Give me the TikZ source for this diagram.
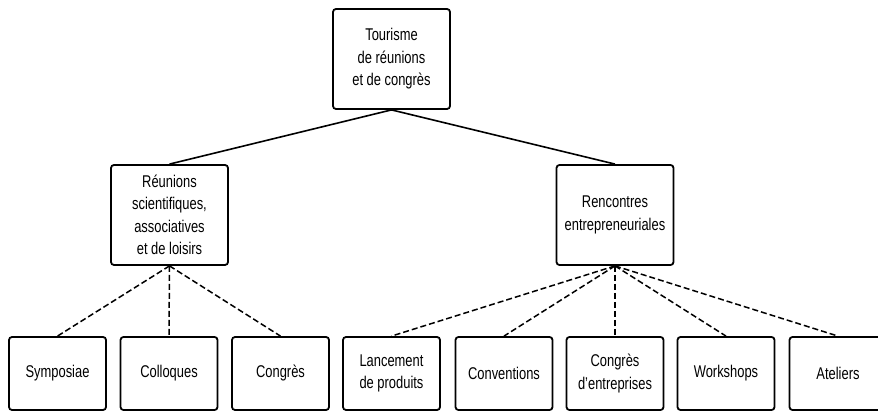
\documentclass[tikz,border=0pt]{standalone}
\usepackage{fontspec}
\setmainfont[FakeStretch=0.76]{Liberation Sans}

\begin{document}
\begin{tikzpicture}[x=1pt,y=-1pt,
    box/.style={draw,line width=1.8pt,rounded corners=3pt,align=center,inner sep=0pt,
        font=\fontsize{17}{22.5}\selectfont},
    bigbox/.style={box,minimum width=117pt,minimum height=100pt},
    leafbox/.style={box,minimum width=97pt,minimum height=73pt},
    link/.style={line width=1.6pt},
    sublink/.style={line width=1.5pt,dash pattern=on 6pt off 3pt}]
    \useasboundingbox (0,0) rectangle (878,411);

    \node[bigbox] (tour) at (391.5,59) {Tourisme\\de réunions\\et de congrès}; % Root.
    \node[bigbox] (reun) at (169.5,215) {Réunions\\scientifiques,\\associatives\\et de loisirs};
    \node[bigbox] (renc) at (615,215) {Rencontres\\entrepreneuriales};

    \node[leafbox] (symp) at (57.5,373.5) {Symposiae};
    \node[leafbox] (coll) at (169,373.5) {Colloques};
    \node[leafbox] (cong) at (280.5,373.5) {Congrès};
    \node[leafbox] (lanc) at (391.5,373.5) {Lancement\\de produits};
    \node[leafbox] (conv) at (504,373.5) {Conventions};
    \node[leafbox] (cent) at (615,373.5) {Congrès\\d’entreprises};
    \node[leafbox] (work) at (726,373.5) {Workshops};
    \node[leafbox] (atel) at (838,373.5) {Ateliers};

    \draw[link] (reun.north) -- (tour.south) -- (renc.north); % Two branches.

    \foreach \leaf in {symp,coll,cong}
        \draw[sublink] (reun.south) -- (\leaf.north);
    \foreach \leaf in {lanc,conv,cent,work,atel}
        \draw[sublink] (renc.south) -- (\leaf.north);
\end{tikzpicture}
\end{document}
